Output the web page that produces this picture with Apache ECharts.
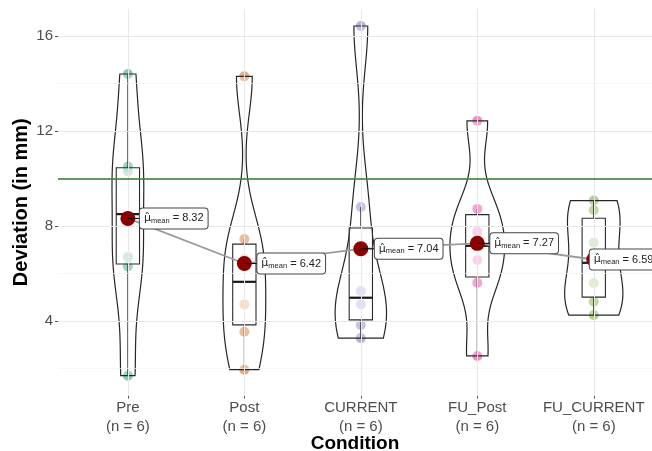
<!DOCTYPE html>
<html><head><meta charset="utf-8">
<script src="https://cdn.jsdelivr.net/npm/echarts@6/dist/echarts.min.js"></script>
<style>html,body{margin:0;padding:0;background:#fff}#c{width:652px;height:451px}</style>
</head><body><div id="c"></div>
<script>
// ---- data ----
const categories = ['Pre', 'Post', 'CURRENT', 'FU_Post', 'FU_CURRENT'];
const groupSizes = ['(n = 6)', '(n = 6)', '(n = 6)', '(n = 6)', '(n = 6)'];
const preValues = [14.4, 10.5, 10.3, 6.7, 6.3, 1.7];
const postValues = [14.3, 7.45, 6.6, 4.7, 3.55, 1.95];
const currentValues = [16.42, 8.8, 5.26, 4.7, 3.83, 3.28];
const fuPostValues = [12.43, 8.72, 7.76, 6.57, 5.61, 2.53];
const fuCurrentValues = [9.07, 8.67, 7.3, 5.6, 4.81, 4.25];
const meanValues = [8.32, 6.42, 7.04, 7.27, 6.59];
const yTickValues = [4, 8, 12, 16];
const yMinorValues = [2, 6, 10, 14];
const referenceValue = 10;

// ---- style ----
const groups = [preValues, postValues, currentValues, fuPostValues, fuCurrentValues];
const pointColors = ['#1B9E77', '#D95F02', '#7570B3', '#E7298A', '#66A61E'];
const labelOffsets = [12, 13, 14, 13, -4];
const violinHalf = 0.25, boxHalf = 0.1;

// ---- stats ----
function q7(s, p) { const h = (s.length - 1) * p, lo = Math.floor(h); const hi = Math.min(lo + 1, s.length - 1); return s[lo] + (h - lo) * (s[hi] - s[lo]); }
function stats(x) {
  const s = x.slice().sort((a, b) => a - b);
  const q1 = q7(s, 0.25), med = q7(s, 0.5), q3 = q7(s, 0.75), iqr = q3 - q1;
  const lw = s.find(v => v >= q1 - 1.5 * iqr);
  const uw = s.slice().reverse().find(v => v <= q3 + 1.5 * iqr);
  return { s, q1, med, q3, iqr, lw, uw };
}
function bwNrd0(x) {
  const n = x.length, m = x.reduce((a, b) => a + b, 0) / n;
  const sd = Math.sqrt(x.reduce((a, v) => a + (v - m) * (v - m), 0) / (n - 1));
  const st = stats(x);
  const lo = Math.min(sd, st.iqr / 1.34);
  return 0.9 * lo * Math.pow(n, -0.2);
}
const nGrid = 256;
const violins = groups.map(x => {
  const st = stats(x), bw = bwNrd0(x);
  const mn = st.s[0], mx = st.s[st.s.length - 1];
  const ys = [], ds = [];
  for (let k = 0; k < nGrid; k++) {
    const y = mn + (mx - mn) * k / (nGrid - 1);
    let d = 0;
    x.forEach(v => { const z = (y - v) / bw; d += Math.exp(-0.5 * z * z); });
    ys.push(y); ds.push(d / (x.length * bw * Math.sqrt(2 * Math.PI)));
  }
  return { ys, ds };
});
const maxD = Math.max(...violins.map(v => Math.max(...v.ds)));
const groupStats = groups.map(stats);

const series = [];
// grid lines
series.push({
  type: 'scatter', data: [[1, 8]], symbolSize: 0, z: 0, silent: true,
  markLine: {
    silent: true, symbol: 'none', label: { show: false }, animation: false,
    data: [
      ...yMinorValues.map(v => ({ yAxis: v, lineStyle: { color: '#F2F2F2', width: 0.7, type: 'solid' } })),
      ...yTickValues.map(v => ({ yAxis: v, lineStyle: { color: '#E8E8E8', width: 1, type: 'solid' } })),
      ...categories.map((c, i) => ({ xAxis: i + 1, lineStyle: { color: '#E8E8E8', width: 1, type: 'solid' } }))
    ]
  }
});
// raw points
groups.forEach((g, i) => {
  series.push({
    type: 'scatter', z: 1, symbolSize: 10,
    data: g.map(v => [i + 1, v]),
    itemStyle: { color: pointColors[i], opacity: 0.52 }
  });
});
// violins
series.push({
  type: 'custom', z: 2, silent: true,
  data: categories.map((c, i) => [i + 1, groupStats[i].med]),
  renderItem: function (params, api) {
    const i = params.dataIndex, v = violins[i], cx = i + 1;
    const left = [], right = [];
    for (let k = 0; k < v.ys.length; k++) {
      const w = violinHalf * v.ds[k] / maxD;
      left.push(api.coord([cx - w, v.ys[k]]));
      right.push(api.coord([cx + w, v.ys[k]]));
    }
    const pts = left.concat(right.reverse());
    return { type: 'polygon', shape: { points: pts }, style: { fill: 'rgba(255,255,255,0.2)', stroke: '#262626', lineWidth: 1.2 } };
  }
});
// boxes
series.push({
  type: 'custom', z: 3, silent: true,
  data: categories.map((c, i) => [i + 1, groupStats[i].med]),
  renderItem: function (params, api) {
    const i = params.dataIndex, st = groupStats[i], cx = i + 1;
    const tl = api.coord([cx - boxHalf, st.q3]), br = api.coord([cx + boxHalf, st.q1]);
    const c = api.coord([cx, st.med]);
    const up = api.coord([cx, st.uw]), lw = api.coord([cx, st.lw]);
    const ml = api.coord([cx - boxHalf, st.med]), mr = api.coord([cx + boxHalf, st.med]);
    const ls = { stroke: '#2b2b2b', lineWidth: 1.1 };
    return {
      type: 'group', children: [
        { type: 'line', shape: { x1: c[0], y1: tl[1], x2: up[0], y2: up[1] }, style: ls },
        { type: 'line', shape: { x1: c[0], y1: br[1], x2: lw[0], y2: lw[1] }, style: ls },
        { type: 'rect', shape: { x: tl[0], y: tl[1], width: br[0] - tl[0], height: br[1] - tl[1] }, style: { fill: 'rgba(255,255,255,0.5)', stroke: '#2b2b2b', lineWidth: 1.1 } },
        { type: 'line', shape: { x1: ml[0], y1: ml[1], x2: mr[0], y2: mr[1] }, style: { stroke: '#1a1a1a', lineWidth: 2.2 } }
      ]
    };
  }
});
// mean path
series.push({
  type: 'line', z: 4, silent: true, symbol: 'none',
  data: meanValues.map((m, i) => [i + 1, m]),
  lineStyle: { color: '#9a9a9a', width: 1.8 }
});
// mean points
series.push({
  type: 'scatter', z: 5, symbolSize: 15,
  data: meanValues.map((m, i) => [i + 1, m]),
  itemStyle: { color: '#8B0000', opacity: 1 }
});
// mean labels
series.push({
  type: 'custom', z: 6, silent: true,
  data: meanValues.map((m, i) => [i + 1, m]),
  renderItem: function (params, api) {
    const i = params.dataIndex, m = meanValues[i];
    const p = api.coord([i + 1, m]);
    const lx = p[0] + labelOffsets[i];
    return {
      type: 'group', children: [
        { type: 'line', shape: { x1: p[0], y1: p[1], x2: lx, y2: p[1] }, style: { stroke: '#000', lineWidth: 1 } },
        {
          type: 'text', x: lx, y: p[1],
          style: {
            text: '{mu|\u03BC\u0302}{sub|mean}{v| = ' + m.toFixed(2) + '}',
            align: 'left', verticalAlign: 'middle',
            backgroundColor: '#fff', borderColor: '#444', borderWidth: 1, borderRadius: 3,
            padding: [3, 4, 3, 4],
            rich: {
              mu: { fontFamily: 'DejaVu Sans', fontSize: 11, fill: '#222', lineHeight: 14 },
              sub: { fontFamily: 'Liberation Sans', fontSize: 7.5, fill: '#222', lineHeight: 14, padding: [5, 0, 0, 0] },
              v: { fontFamily: 'Liberation Sans', fontSize: 11, fill: '#222', lineHeight: 14 }
            }
          }
        }
      ]
    };
  }
});
// reference line
series.push({
  type: 'scatter', data: [[1, referenceValue]], symbolSize: 0, z: 7, silent: true,
  markLine: {
    silent: true, symbol: 'none', label: { show: false }, animation: false,
    data: [{ yAxis: referenceValue, lineStyle: { color: '#2f7a2f', width: 1.5, type: 'solid' } }]
  }
});

const chart = echarts.init(document.getElementById('c'), null, { renderer: 'canvas' });
chart.setOption({
  animation: false,
  backgroundColor: '#fff',
  textStyle: { fontFamily: 'Liberation Sans' },
  grid: { left: 58, right: 0, top: 8.9, bottom: 55.4, containLabel: false, outerBoundsMode: 'none' },
  xAxis: {
    type: 'value', min: 0.4, max: 5.5,
    name: 'Condition', nameLocation: 'middle', nameGap: 39, nameMoveOverlap: false,
    nameTextStyle: { fontSize: 19, fontWeight: 'bold', color: '#000', fontFamily: 'Liberation Sans' },
    axisLine: { show: false },
    splitLine: { show: false },
    axisTick: { show: true, customValues: [1, 2, 3, 4, 5], length: 3, lineStyle: { color: '#555' } },
    axisLabel: {
      customValues: [1, 2, 3, 4, 5], margin: 3, fontSize: 15, lineHeight: 19, color: '#4d4d4d',
      formatter: v => categories[Math.round(v) - 1] + '\n' + groupSizes[Math.round(v) - 1]
    }
  },
  yAxis: {
    type: 'value', min: 0.86, max: 17.14,
    name: 'Deviation (in mm)', nameLocation: 'middle', nameGap: 27, nameRotate: 90, nameMoveOverlap: false,
    nameTextStyle: { fontSize: 20, fontWeight: 'bold', color: '#000', fontFamily: 'Liberation Sans' },
    axisLine: { show: false },
    splitLine: { show: false },
    axisTick: { show: true, customValues: yTickValues, length: 3, lineStyle: { color: '#555' } },
    axisLabel: { customValues: yTickValues, margin: 5, fontSize: 15, color: '#4d4d4d' }
  },
  series: series
});
</script>
</body></html>
